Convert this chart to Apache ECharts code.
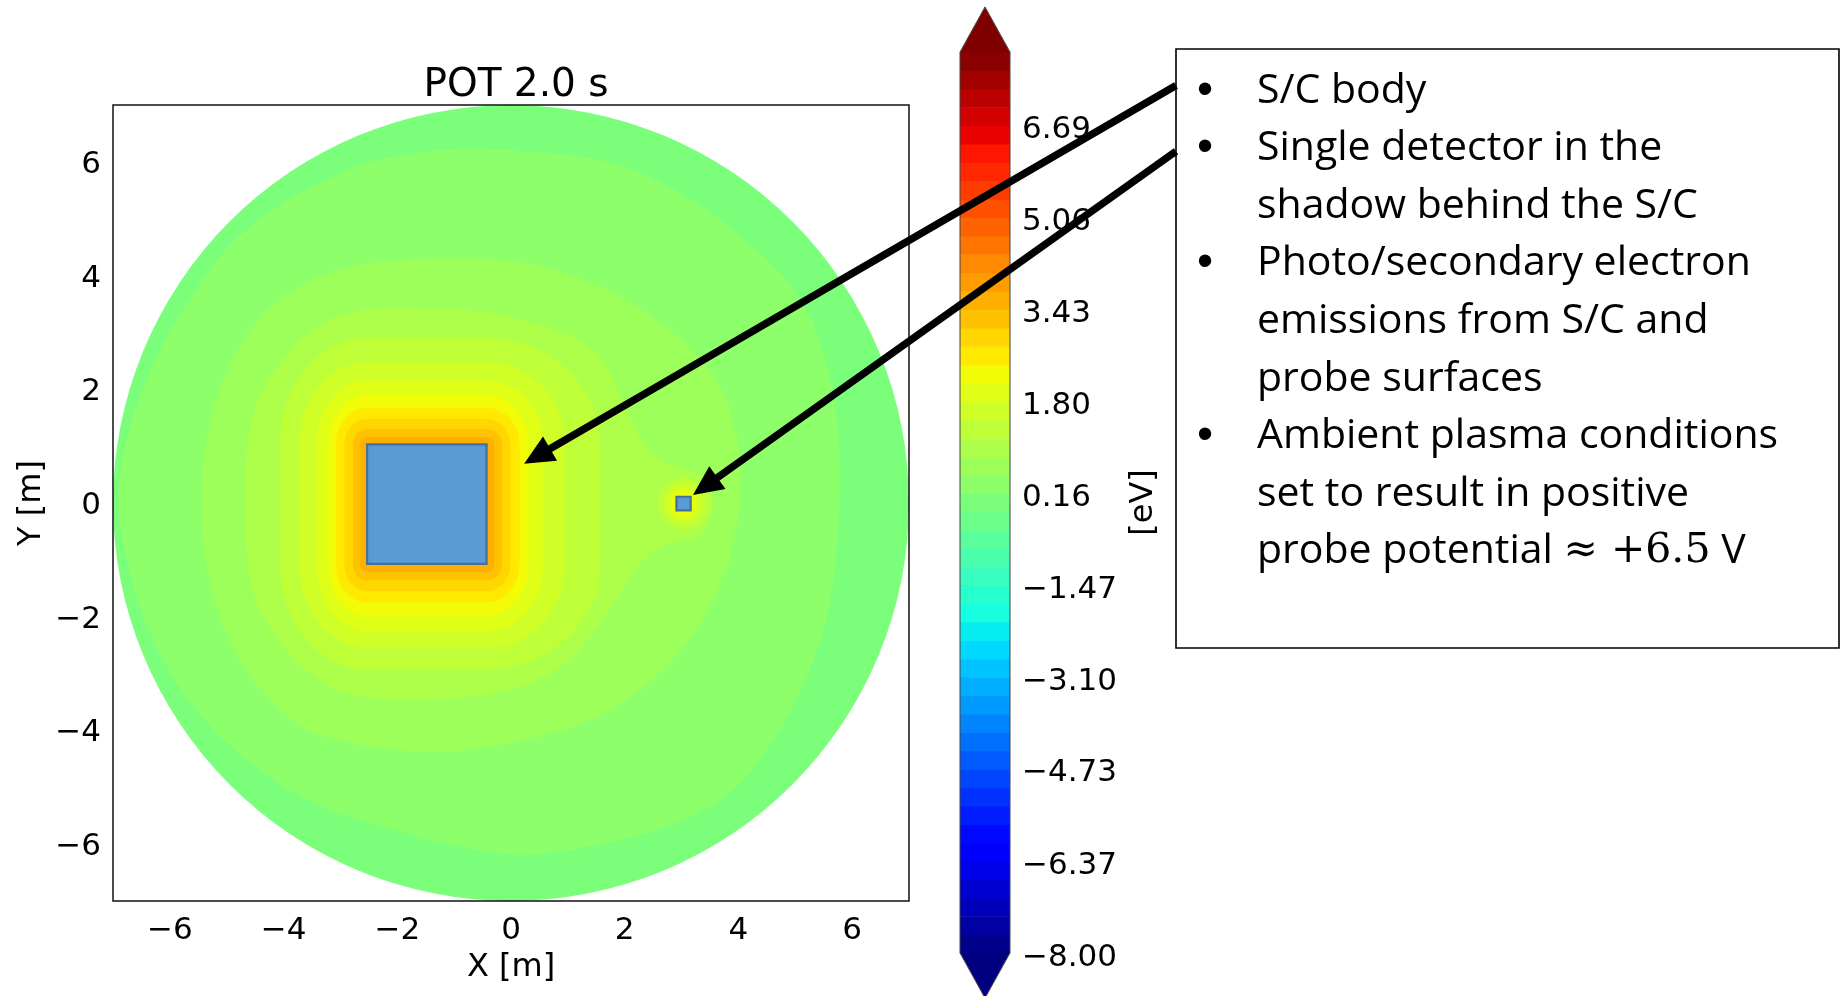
<!DOCTYPE html>
<html>
<head>
<meta charset="utf-8">
<script src="https://cdn.jsdelivr.net/npm/echarts@6/dist/echarts.min.js"></script>
<style>
  html, body { margin: 0; padding: 0; background: #fff; }
  #chart { width: 1842px; height: 996px; }
</style>
</head>
<body>
<div id="chart"></div>
<script>
// ---------------- Domain and objects (metres) ----------------
const DOMAIN_RADIUS = 7;
const AXIS_TICKS = [-6, -4, -2, 0, 2, 4, 6];
const SC_BODY = [-2.53, -0.43, -1.07, 1.03];    // xmin, xmax, ymin, ymax
const DETECTOR = [2.91, 3.16, -0.13, 0.11];     // xmin, xmax, ymin, ymax

// ---------------- Potential levels (eV) ----------------
const LEVEL_MIN = -8;
const LEVEL_MAX = 8;
const LEVEL_COUNT = 50;
const CBAR_TICKS = [-8.00, -6.37, -4.73, -3.10, -1.47, 0.16, 1.80, 3.43, 5.06, 6.69];

// band that fills the whole domain (potential close to 0 at the outer boundary)
const FIELD_BASE_BAND = 24;

// outer equipotentials, closed outlines [x, y]
const CONTOUR_25 = [[0.00, 6.20], [1.74, 5.99], [3.20, 5.32], [4.38, 4.38], [5.14, 3.50], [5.55, 2.45],
  [5.76, 1.16], [5.78, 0.00], [5.61, -1.74], [5.26, -2.91], [4.67, -4.09], [3.79, -5.14], [2.62, -5.73],
  [1.15, -6.08], [0.00, -6.18], [-1.74, -5.84], [-3.50, -5.26], [-4.67, -4.50], [-5.55, -3.62],
  [-6.25, -2.50], [-6.67, -1.33], [-6.90, 0.00], [-6.67, 1.45], [-5.85, 3.27], [-4.67, 4.79],
  [-2.91, 5.84], [-1.50, 6.18]];
const CONTOUR_26 = [[-1.50, 4.30], [-0.02, 4.26], [1.20, 3.95], [2.33, 3.38], [3.50, 2.33], [3.97, 1.16],
  [4.03, 0.00], [3.92, -0.60], [3.79, -1.15], [3.26, -2.21], [2.50, -3.09], [1.45, -3.79], [-0.02, -4.22],
  [-1.50, -4.38], [-3.30, -4.10], [-4.10, -3.60], [-4.85, -2.60], [-5.30, -1.40], [-5.45, 0.00],
  [-5.30, 1.40], [-4.85, 2.60], [-4.10, 3.55], [-3.00, 4.10]];
const CONTOUR_27 = [[-1.50, 3.42], [-0.02, 3.27], [1.45, 2.68], [2.03, 1.64], [2.39, 0.93], [2.80, 0.67],
  [3.38, 0.46], [3.55, 0.00], [3.38, -0.53], [2.80, -0.71], [2.33, -1.00], [2.03, -1.41], [1.45, -2.29],
  [0.86, -2.88], [-0.02, -3.28], [-1.50, -3.45], [-3.00, -3.30], [-3.95, -2.60], [-4.55, -1.50],
  [-4.66, 0.00], [-4.55, 1.50], [-3.95, 2.60], [-3.00, 3.30]];

// equipotentials hugging the S/C body: distance from each face [left, right, top, bottom]
const BODY_CONTOUR_BANDS = [28, 29, 30, 31, 32, 33, 34, 35];
const BODY_CONTOUR_OFFSETS = [
  [1.54, 2.00, 1.88, 1.86],
  [1.19, 1.38, 1.45, 1.48],
  [0.89, 1.00, 1.12, 1.18],
  [0.68, 0.74, 0.86, 0.92],
  [0.55, 0.58, 0.64, 0.68],
  [0.40, 0.42, 0.45, 0.48],
  [0.25, 0.27, 0.27, 0.29],
  [0.12, 0.14, 0.13, 0.14]
];

// small equipotential rings around the detector
const DETECTOR_RING_BANDS = [28, 29, 30, 31];
const DETECTOR_RING_RADII = [0.45, 0.34, 0.26, 0.19];

// annotation
const NOTE_LINES = [
  ['\u2022', 'S/C body'],
  ['\u2022', 'Single detector in the'],
  ['', 'shadow behind the S/C'],
  ['\u2022', 'Photo/secondary electron'],
  ['', 'emissions from S/C and'],
  ['', 'probe surfaces'],
  ['\u2022', 'Ambient plasma conditions'],
  ['', 'set to result in positive'],
  ['', '{t|probe potential }{m|\u2248 +6.5}{t| V}']
];
// what the first two bullets point at (data coordinates)
const ARROW_TARGETS = [[0.23, 0.69], [3.20, 0.14]];

// ---------------- jet colormap ----------------
const JET = {
  r: [[0, 0], [0.35, 0], [0.66, 1], [0.89, 1], [1, 0.5]],
  g: [[0, 0], [0.125, 0], [0.375, 1], [0.64, 1], [0.91, 0], [1, 0]],
  b: [[0, 0.5], [0.11, 1], [0.34, 1], [0.65, 0], [1, 0]]
};
function segInterp(s, t) {
  for (let i = 1; i < s.length; i++) {
    if (t <= s[i][0]) {
      const [t0, v0] = s[i - 1], [t1, v1] = s[i];
      return v0 + (v1 - v0) * (t - t0) / (t1 - t0);
    }
  }
  return s[s.length - 1][1];
}
function jet(t) {
  t = Math.min(1, Math.max(0, t));
  const c = ['r', 'g', 'b'].map(k => Math.round(255 * segInterp(JET[k], t)));
  return 'rgb(' + c.join(',') + ')';
}
const NBANDS = LEVEL_COUNT - 1;
const LEVELS = Array.from({ length: LEVEL_COUNT }, (_, k) => LEVEL_MIN + k * (LEVEL_MAX - LEVEL_MIN) / NBANDS);
const bandColor = i => jet((i + 0.5) / NBANDS);

// ---------------- shapes of the potential map ----------------
function bodyContour(off) {
  const [x0, x1, y0, y1] = SC_BODY;
  const [l, r, t, b] = off;
  const corners = [[x1, y1, r, t, 90, 0], [x1, y0, r, b, 0, -90], [x0, y0, l, b, -90, -180], [x0, y1, l, t, 180, 90]];
  const pts = [];
  const N = 18;
  for (const [cx, cy, rx, ry, a0, a1] of corners) {
    for (let i = 0; i <= N; i++) {
      const a = (a0 + (a1 - a0) * i / N) * Math.PI / 180;
      pts.push([cx + rx * Math.cos(a), cy + ry * Math.sin(a)]);
    }
  }
  return pts;
}
function clampToDomain(p) {
  const r = Math.hypot(p[0], p[1]);
  const lim = DOMAIN_RADIUS - 0.02;
  return r > lim ? [p[0] * lim / r, p[1] * lim / r] : p;
}

const SHAPES = [];
SHAPES.push({ kind: 'disk', band: FIELD_BASE_BAND });
SHAPES.push({ kind: 'poly', pts: CONTOUR_25, band: 25, smooth: 0.35 });
SHAPES.push({ kind: 'poly', pts: CONTOUR_26, band: 26, smooth: 0.35 });
SHAPES.push({ kind: 'poly', pts: CONTOUR_27, band: 27, smooth: 0.35 });
BODY_CONTOUR_BANDS.forEach((band, k) => {
  SHAPES.push({ kind: 'poly', pts: bodyContour(BODY_CONTOUR_OFFSETS[k]), band: band, smooth: 0 });
  const j = DETECTOR_RING_BANDS.indexOf(band);
  if (j >= 0) SHAPES.push({ kind: 'ring', r: DETECTOR_RING_RADII[j], band: band });
});
SHAPES.push({ kind: 'box', rect: SC_BODY });
SHAPES.push({ kind: 'box', rect: DETECTOR });
SHAPES.push({ kind: 'frame' });

function renderField(params, api) {
  const s = SHAPES[params.dataIndex];
  if (s.kind === 'disk') {
    const c = api.coord([0, 0]);
    return { type: 'circle', shape: { cx: c[0], cy: c[1], r: api.size([DOMAIN_RADIUS, 0])[0] }, style: { fill: bandColor(s.band) } };
  }
  if (s.kind === 'poly') {
    return { type: 'polygon', shape: { points: s.pts.map(p => api.coord(clampToDomain(p))), smooth: s.smooth },
      style: { fill: bandColor(s.band) } };
  }
  if (s.kind === 'ring') {
    const c = api.coord([(DETECTOR[0] + DETECTOR[1]) / 2, (DETECTOR[2] + DETECTOR[3]) / 2]);
    return { type: 'circle', shape: { cx: c[0], cy: c[1], r: api.size([s.r, 0])[0] }, style: { fill: bandColor(s.band) } };
  }
  if (s.kind === 'box') {
    const a = api.coord([s.rect[0], s.rect[3]]), b = api.coord([s.rect[1], s.rect[2]]);
    return { type: 'rect', shape: { x: a[0], y: a[1], width: b[0] - a[0], height: b[1] - a[1] },
      style: { fill: '#5B9BD5', stroke: '#41719C', lineWidth: 2.2 } };
  }
  const a = api.coord([-DOMAIN_RADIUS, DOMAIN_RADIUS]), b = api.coord([DOMAIN_RADIUS, -DOMAIN_RADIUS]);
  return { type: 'rect', shape: { x: a[0], y: a[1], width: b[0] - a[0], height: b[1] - a[1] },
    style: { fill: 'none', stroke: '#111', lineWidth: 1.5 } };
}

// ---------------- colour bar ----------------
const EXTEND_FRAC = 0.05;
function renderColorbar(params, api) {
  const i = params.dataIndex;
  const lo = api.coord([0, LEVEL_MIN]), hi = api.coord([1, LEVEL_MAX]);
  const ext = (lo[1] - hi[1]) * EXTEND_FRAC;
  const xm = (lo[0] + hi[0]) / 2;
  if (i < NBANDS) {
    const a = api.coord([0, LEVELS[i]]), b = api.coord([1, LEVELS[i + 1]]);
    return { type: 'rect', shape: { x: a[0], y: b[1], width: b[0] - a[0], height: a[1] - b[1] + 0.6 },
      style: { fill: bandColor(i) } };
  }
  if (i === NBANDS) {
    return { type: 'polygon', shape: { points: [[lo[0], hi[1] + 0.5], [hi[0], hi[1] + 0.5], [xm, hi[1] - ext]] }, style: { fill: jet(1) } };
  }
  if (i === NBANDS + 1) {
    return { type: 'polygon', shape: { points: [[lo[0], lo[1] - 0.5], [hi[0], lo[1] - 0.5], [xm, lo[1] + ext]] }, style: { fill: jet(0) } };
  }
  return { type: 'polygon',
    shape: { points: [[lo[0], lo[1]], [xm, lo[1] + ext], [hi[0], lo[1]], [hi[0], hi[1]], [xm, hi[1] - ext], [lo[0], hi[1]]] },
    style: { fill: 'none', stroke: '#444', lineWidth: 1 } };
}

const MINUS = '\u2212';
const fmtInt = v => (v < 0 ? MINUS : '') + Math.abs(v);
const fmt2 = v => (v < 0 ? MINUS : '') + Math.abs(v).toFixed(2);
const TICK_FONT = { fontFamily: 'DejaVu Sans', fontSize: 31, color: '#000' };
const NAME_FONT = { fontFamily: 'DejaVu Sans', fontSize: 32, color: '#000' };

const option = {
  animation: false,
  backgroundColor: '#fff',
  title: {
    text: 'POT 2.0 s', left: 511, top: 61, textAlign: 'center',
    textStyle: { fontFamily: 'DejaVu Sans', fontSize: 39, fontWeight: 'normal', color: '#000' }
  },
  grid: [
    { left: 113, top: 105, width: 796, height: 796, show: false },
    { left: 960, top: 52, width: 50, height: 901, show: false }
  ],
  xAxis: [
    { gridIndex: 0, type: 'value', min: -DOMAIN_RADIUS, max: DOMAIN_RADIUS,
      axisLine: { show: false }, splitLine: { show: false },
      axisTick: { show: true, customValues: AXIS_TICKS, length: 7, lineStyle: { color: '#000', width: 1.5 } },
      axisLabel: Object.assign({ customValues: AXIS_TICKS, formatter: fmtInt, margin: 14 }, TICK_FONT),
      name: 'X [m]', nameLocation: 'middle', nameGap: 51, nameTextStyle: NAME_FONT },
    { gridIndex: 1, type: 'value', min: 0, max: 1, show: false }
  ],
  yAxis: [
    { gridIndex: 0, type: 'value', min: -DOMAIN_RADIUS, max: DOMAIN_RADIUS,
      axisLine: { show: false }, splitLine: { show: false },
      axisTick: { show: true, customValues: AXIS_TICKS, length: 7, lineStyle: { color: '#000', width: 1.5 } },
      axisLabel: Object.assign({ customValues: AXIS_TICKS, formatter: fmtInt, margin: 12,
        verticalAlign: 'top', lineHeight: 6 }, TICK_FONT),
      name: 'Y [m]', nameLocation: 'middle', nameRotate: 90, nameGap: 65, nameTextStyle: NAME_FONT },
    { gridIndex: 1, type: 'value', min: LEVEL_MIN, max: LEVEL_MAX, position: 'right',
      axisLine: { show: false }, splitLine: { show: false },
      axisTick: { show: true, customValues: CBAR_TICKS, length: 8, lineStyle: { color: '#000', width: 1.5 } },
      axisLabel: { customValues: CBAR_TICKS, formatter: fmt2, margin: 12, verticalAlign: 'top', lineHeight: 9,
        fontFamily: 'DejaVu Sans', fontSize: 31, color: '#000' },
      name: '[eV]', nameLocation: 'middle', nameRotate: 90, nameGap: 118, nameTextStyle: NAME_FONT }
  ],
  series: [
    { type: 'custom', name: 'potential', xAxisIndex: 0, yAxisIndex: 0, silent: true,
      renderItem: renderField, data: SHAPES.map(() => [0, 0]) },
    { type: 'custom', name: 'colorbar', xAxisIndex: 1, yAxisIndex: 1, silent: true,
      renderItem: renderColorbar, data: Array.from({ length: NBANDS + 3 }, () => [0.5, 0]) }
  ]
};

const chart = echarts.init(document.getElementById('chart'));
chart.setOption(option);

// ---------------- note box with arrows ----------------
const BOX = { x: 1176, y: 49, w: 663, h: 599 };
const LINE0_Y = 91, LINE_STEP = 57.6;
const BULLET_X = 1205, TEXT_X = 1257;
const NOTE_FONT = '41px "Open Sans"';
const ARROW_TAIL_Y = [85.5, 151.3];
const HEAD_LEN = 30, HEAD_HALF = 14, ARROW_WIDTH = 7.5;

const graphics = [];
graphics.push({ type: 'rect', z: 20, shape: { x: BOX.x, y: BOX.y, width: BOX.w, height: BOX.h },
  style: { fill: '#fff', stroke: '#000', lineWidth: 1.6 } });
NOTE_LINES.forEach(([bullet, text], k) => {
  const y = LINE0_Y + k * LINE_STEP;
  if (bullet) {
    graphics.push({ type: 'text', z: 21, x: BULLET_X, y: y,
      style: { text: bullet, font: '46px "Liberation Sans"', fill: '#000', align: 'center', verticalAlign: 'middle',
        textAlign: 'center', textVerticalAlign: 'middle' } });
  }
  graphics.push({ type: 'text', z: 21, x: TEXT_X, y: y,
    style: { text: text, font: NOTE_FONT, fill: '#000',
      align: 'left', verticalAlign: 'middle', textAlign: 'left', textVerticalAlign: 'middle',
      rich: { t: { font: NOTE_FONT, fill: '#000' }, m: { font: '41px "DejaVu Serif"', fill: '#000' } } } });
});
ARROW_TARGETS.forEach((target, k) => {
  const tip = chart.convertToPixel({ gridIndex: 0 }, target);
  const tail = [BOX.x, ARROW_TAIL_Y[k]];
  const dx = tail[0] - tip[0], dy = tail[1] - tip[1];
  const len = Math.hypot(dx, dy);
  const ux = dx / len, uy = dy / len;
  const base = [tip[0] + ux * HEAD_LEN, tip[1] + uy * HEAD_LEN];
  graphics.push({ type: 'line', z: 22,
    shape: { x1: tail[0], y1: tail[1], x2: base[0] - ux * 2, y2: base[1] - uy * 2 },
    style: { stroke: '#000', lineWidth: ARROW_WIDTH } });
  graphics.push({ type: 'polygon', z: 22,
    shape: { points: [tip, [base[0] - uy * HEAD_HALF, base[1] + ux * HEAD_HALF], [base[0] + uy * HEAD_HALF, base[1] - ux * HEAD_HALF]] },
    style: { fill: '#000' } });
});
chart.setOption({ graphic: graphics });
</script>
</body>
</html>
